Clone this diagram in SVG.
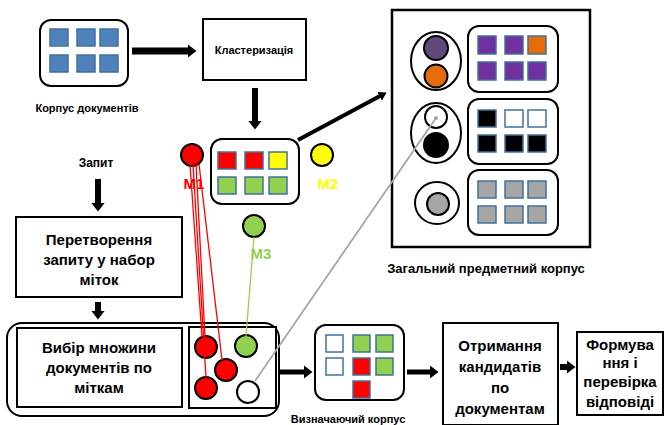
<svg xmlns="http://www.w3.org/2000/svg" width="667" height="425" viewBox="0 0 667 425">
<style>
.bx{fill:#fff;stroke:#000;stroke-width:2}
.sq{stroke:#41719C;stroke-width:1.5}
.bl{fill:#4F81BD}.rd{fill:#FF0000}.gr{fill:#92D050}.ye{fill:#FFFF00}.wh{fill:#fff}
.pu{fill:#7030A0}.or{fill:#E46C0A}.bk{fill:#000}.gy{fill:#A6A6A6}
.c{stroke:#000;stroke-width:2}
.t{font-family:"Liberation Sans",Arial,sans-serif;font-weight:bold;fill:#000;text-anchor:middle}
.s{font-size:11px}.m{font-size:15px}
.ar{stroke:#000;fill:none}
</style>
<defs>
<marker id="ah" markerUnits="userSpaceOnUse" viewBox="0 0 9 14" markerWidth="9" markerHeight="14" refX="0.5" refY="7" orient="auto"><path d="M0,0 L9,7 L0,14 Z" fill="#000"/></marker>
<marker id="ahs" markerUnits="userSpaceOnUse" viewBox="0 0 8 10" markerWidth="8" markerHeight="10" refX="0.5" refY="5" orient="auto"><path d="M0,0 L8,5 L0,10 Z" fill="#000"/></marker>
</defs>
<g id="corpus">
<rect class="bx" x="40" y="20" width="88" height="66" rx="11"/>
<rect class="sq bl" x="50" y="29" width="18" height="17"/><rect class="sq bl" x="77" y="29" width="18" height="17"/><rect class="sq bl" x="100" y="29" width="18" height="17"/>
<rect class="sq bl" x="50" y="55" width="18" height="17"/><rect class="sq bl" x="77" y="55" width="18" height="17"/><rect class="sq bl" x="100" y="55" width="18" height="17"/>
<text class="t s" x="87" y="112">Корпус документів</text>
</g>
<g id="clustering">
<rect class="bx" x="203" y="19" width="103" height="61"/>
<text class="t s" x="254" y="54">Кластеризація</text>
</g>
<g id="clusters">
<rect class="bx" x="211" y="139" width="88" height="65" rx="11"/>
<rect class="sq rd" x="218" y="152" width="18" height="17"/><rect class="sq rd" x="245" y="152" width="18" height="17"/><rect class="sq ye" x="269" y="152" width="18" height="17"/>
<rect class="sq gr" x="218" y="177" width="18" height="17"/><rect class="sq gr" x="245" y="177" width="18" height="17"/><rect class="sq gr" x="269" y="177" width="18" height="17"/>
</g>
<g id="m1">
<circle class="c rd" cx="192" cy="155" r="11"/>
<text class="t" x="194" y="189" font-size="15" style="fill:#FF0000">M1</text>
</g>
<g id="m2">
<circle class="c ye" cx="322" cy="155" r="11"/>
<text class="t" x="328" y="189" font-size="15" style="fill:#FFFF00">M2</text>
</g>
<g id="m3">
<circle class="c gr" cx="254" cy="226" r="11"/>
<text class="t" x="261" y="259" font-size="15" style="fill:#92D050">M3</text>
</g>
<g id="general-corpus">
<rect x="392" y="10" width="198" height="237" fill="#fff" stroke="#000" stroke-width="2.5"/>
<ellipse class="c wh" cx="436" cy="61" rx="25" ry="29"/>
<circle class="c" cx="436" cy="48" r="12" fill="#60497A"/>
<circle class="c or" cx="436" cy="76" r="11.5"/>
<ellipse class="c wh" cx="436" cy="133" rx="25" ry="30"/>
<circle class="c wh" cx="436" cy="117" r="11"/>
<circle cx="436" cy="118" r="2" fill="#A6A6A6"/>
<circle class="c bk" cx="436" cy="145" r="12"/>
<ellipse class="c wh" cx="437" cy="203" rx="22" ry="21"/>
<circle class="c gy" cx="438" cy="204" r="11"/>
<rect class="bx" x="468" y="26" width="90" height="66" rx="11"/>
<rect class="sq pu" x="478" y="36" width="18" height="18"/><rect class="sq pu" x="505" y="36" width="18" height="18"/><rect class="sq or" x="528" y="36" width="18" height="18"/>
<rect class="sq pu" x="478" y="62" width="18" height="18"/><rect class="sq pu" x="505" y="62" width="18" height="18"/><rect class="sq pu" x="528" y="62" width="18" height="18"/>
<rect class="bx" x="468" y="99" width="90" height="65" rx="11"/>
<rect class="sq bk" x="478" y="110" width="18" height="17"/><rect class="sq wh" x="505" y="110" width="18" height="17"/><rect class="sq wh" x="528" y="110" width="18" height="17"/>
<rect class="sq bk" x="478" y="135" width="18" height="17"/><rect class="sq bk" x="505" y="135" width="18" height="17"/><rect class="sq bk" x="528" y="135" width="18" height="17"/>
<rect class="bx" x="468" y="170" width="90" height="65" rx="11"/>
<rect class="sq gy" x="478" y="181" width="18" height="17"/><rect class="sq gy" x="505" y="181" width="18" height="17"/><rect class="sq gy" x="528" y="181" width="18" height="17"/>
<rect class="sq gy" x="478" y="206" width="18" height="17"/><rect class="sq gy" x="505" y="206" width="18" height="17"/><rect class="sq gy" x="528" y="206" width="18" height="17"/>
<text class="t" x="486" y="273" font-size="13">Загальний предметний корпус</text>
</g>
<g id="query">
<text class="t" x="96" y="167" font-size="12">Запит</text>
</g>
<g id="transform">
<rect class="bx" x="16" y="217" width="166" height="80"/>
<text class="t m" x="99" y="245">Перетворення</text>
<text class="t m" x="99" y="265">запиту у набор</text>
<text class="t m" x="99" y="285">міток</text>
</g>
<g id="select">
<rect class="bx" x="7" y="323" width="272" height="93" rx="15"/>
<rect class="bx" x="17" y="328" width="165" height="79"/>
<text class="t m" x="99" y="353">Вибір множини</text>
<text class="t m" x="99" y="373">документів по</text>
<text class="t m" x="99" y="393">міткам</text>
<rect class="bx" x="189" y="327" width="87" height="81"/>
<circle class="c rd" cx="206" cy="347" r="11"/>
<circle class="c gr" cx="246" cy="346" r="11"/>
<circle class="c rd" cx="226" cy="370" r="11"/>
<circle class="c rd" cx="206" cy="388" r="11"/>
<circle class="c wh" cx="248" cy="392" r="11"/>
</g>
<g id="defining-corpus">
<rect class="bx" x="315" y="325" width="89" height="75" rx="11"/>
<rect class="sq wh" x="326" y="335" width="17" height="17"/><rect class="sq gr" x="353" y="335" width="17" height="17"/><rect class="sq gr" x="376" y="335" width="17" height="17"/>
<rect class="sq wh" x="326" y="358" width="17" height="17"/><rect class="sq rd" x="353" y="358" width="17" height="17"/><rect class="sq gr" x="376" y="358" width="17" height="17"/>
<rect class="sq rd" x="353" y="381" width="17" height="17"/>
<text class="t s" x="348" y="423">Визначаючий корпус</text>
</g>
<g id="candidates">
<rect class="bx" x="443" y="323" width="115" height="102"/>
<text class="t m" x="500" y="351">Отримання</text>
<text class="t m" x="500" y="372">кандидатів</text>
<text class="t m" x="500" y="393">по</text>
<text class="t m" x="500" y="414">документам</text>
</g>
<g id="answer">
<rect class="bx" x="577" y="332" width="86" height="83"/>
<text class="t m" x="620" y="350">Формува</text>
<text class="t m" x="620" y="368">ння і</text>
<text class="t m" x="620" y="387">перевірка</text>
<text class="t m" x="620" y="407">відповіді</text>
</g>
<g id="connectors">
<line class="ar" x1="132" y1="51" x2="188" y2="51" stroke-width="7" marker-end="url(#ah)"/>
<line class="ar" x1="255" y1="88" x2="255" y2="121" stroke-width="6" marker-end="url(#ah)"/>
<line class="ar" x1="298" y1="140" x2="380" y2="96" stroke-width="4" marker-end="url(#ahs)"/>
<line class="ar" x1="98" y1="179" x2="98" y2="203" stroke-width="6" marker-end="url(#ah)"/>
<line class="ar" x1="98" y1="302" x2="98" y2="311" stroke-width="6" marker-end="url(#ah)"/>
<line class="ar" x1="279" y1="372" x2="304" y2="372" stroke-width="5" marker-end="url(#ah)"/>
<line class="ar" x1="407" y1="372" x2="430" y2="372" stroke-width="5" marker-end="url(#ah)"/>
<line class="ar" x1="560" y1="367" x2="567" y2="367" stroke-width="6" marker-end="url(#ah)"/>
<g stroke="#FF0000" stroke-width="1.3">
<line x1="190" y1="164" x2="202" y2="337"/>
<line x1="193" y1="164" x2="206" y2="378"/>
<line x1="196" y1="164" x2="205" y2="337"/>
<line x1="199" y1="164" x2="222" y2="360"/>
</g>
<line x1="254" y1="237" x2="246" y2="336" stroke="#92D050" stroke-width="1.3"/>
<line x1="255" y1="381" x2="436" y2="118" stroke="#A6A6A6" stroke-width="1.8"/>
</g>
</svg>
